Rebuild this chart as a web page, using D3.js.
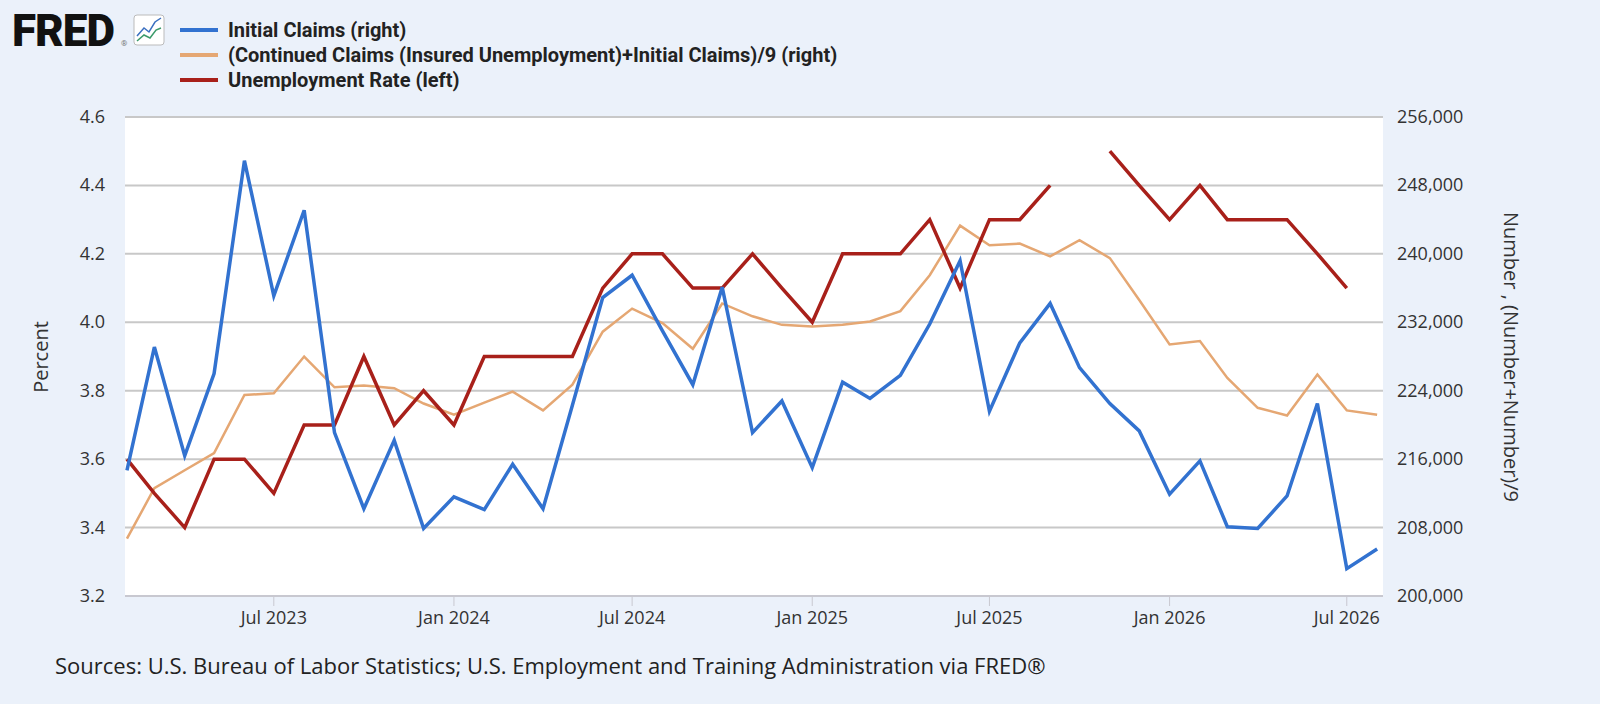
<!DOCTYPE html>
<html><head><meta charset="utf-8">
<script src="https://cdn.jsdelivr.net/npm/d3@7"></script>
<style>html,body{margin:0;padding:0;overflow:hidden;background:#ebf1fa;}svg{display:block;}</style>
</head><body><svg width="1600" height="704"></svg>
<script>
var startMonth = new Date(2023, 1, 1); // Feb 2023
var initialClaims = [214700,229100,216400,226000,250900,235100,245100,219100,210200,218200,207900,211600,210100,215400,210200,222300,234900,237500,231000,224700,236100,219100,222800,215000,225000,223100,225800,231800,239200,221600,229600,234200,226700,222500,219300,211900,215800,208100,207900,211700,222500,203200,205500];
var continuedClaims = [206700,212600,214700,216700,223500,223700,228000,224400,224600,224300,222500,221200,222600,223900,221700,224700,230900,233600,231900,228900,234200,232700,231700,231500,231700,232100,233300,237500,243300,241000,241200,239700,241600,239500,234600,229400,229800,225500,222000,221100,225900,221700,221200];
var unemploymentRate = [3.6,3.5,3.4,3.6,3.6,3.5,3.7,3.7,3.9,3.7,3.8,3.7,3.9,3.9,3.9,3.9,4.1,4.2,4.2,4.1,4.1,4.2,4.1,4.0,4.2,4.2,4.2,4.3,4.1,4.3,4.3,4.4,null,4.5,4.4,4.3,4.4,4.3,4.3,4.3,4.2,4.1,null];
var leftTicks = [3.2,3.4,3.6,3.8,4.0,4.2,4.4,4.6];
var rightTicks = [200000,208000,216000,224000,232000,240000,248000,256000];
var xTicks = [new Date(2023,6,1),new Date(2024,0,1),new Date(2024,6,1),new Date(2025,0,1),new Date(2025,6,1),new Date(2026,0,1),new Date(2026,6,1)];

var dates = initialClaims.map(function(v,i){ return d3.timeMonth.offset(startMonth, i); });
var svg = d3.select("svg");
var L = 125, R = 1383, T = 117, B = 596;

var x = d3.scaleTime().domain([d3.timeDay.offset(dates[0],-2), d3.timeDay.offset(dates[dates.length-1],6)]).range([L, R]);
var yL = d3.scaleLinear().domain([3.2,4.6]).range([B,T]);
var yR = d3.scaleLinear().domain([200000,256000]).range([B,T]);

svg.append("rect").attr("x",L).attr("y",T).attr("width",R-L).attr("height",B-T).attr("fill","#fff");

svg.append("g").selectAll("line").data(leftTicks.slice(1)).join("line")
  .attr("x1",L).attr("x2",R).attr("y1",function(d){return yL(d);}).attr("y2",function(d){return yL(d);})
  .attr("stroke","#c8c8c8").attr("stroke-width",2);
svg.append("line").attr("x1",L).attr("x2",R).attr("y1",B).attr("y2",B).attr("stroke","#c8c8d0").attr("stroke-width",2);

var tickFont = "'Open Sans', sans-serif";
svg.append("g").selectAll("text").data(leftTicks).join("text")
  .attr("x",105).attr("y",function(d){return yL(d)+6;}).attr("text-anchor","end")
  .attr("font-family",tickFont).attr("font-size",18).attr("fill","#333").text(function(d){return d3.format(".1f")(d);});
svg.append("g").selectAll("text").data(rightTicks).join("text")
  .attr("x",1397).attr("y",function(d){return yR(d)+6;})
  .attr("font-family",tickFont).attr("font-size",18).attr("fill","#333").text(d3.format(","));
svg.append("g").selectAll("line").data(xTicks).join("line")
  .attr("x1",function(d){return x(d);}).attr("x2",function(d){return x(d);}).attr("y1",B).attr("y2",B+10)
  .attr("stroke","#c8c8d0");
svg.append("g").selectAll("text").data(xTicks).join("text")
  .attr("x",function(d){return x(d);}).attr("y",624).attr("text-anchor","middle")
  .attr("font-family",tickFont).attr("font-size",18).attr("fill","#333").text(d3.timeFormat("%b %Y"));

svg.append("text").attr("transform","translate(48,357) rotate(-90)").attr("text-anchor","middle")
  .attr("font-family",tickFont).attr("font-size",20).attr("fill","#333").text("Percent");
svg.append("text").attr("transform","translate(1504,357) rotate(90)").attr("text-anchor","middle")
  .attr("font-family",tickFont).attr("font-size",20).attr("fill","#333").text("Number , (Number+Number)/9");

function draw(vals, sc, color, w){
  var line = d3.line().defined(function(d){return d != null;})
    .x(function(d,i){return x(dates[i]);}).y(function(d){return sc(d);});
  svg.append("path").datum(vals).attr("d",line).attr("fill","none").attr("stroke",color)
    .attr("stroke-width",w).attr("stroke-linejoin","miter");
}
draw(continuedClaims, yR, "#e5a773", 2.5);
draw(unemploymentRate, yL, "#a8201a", 3.5);
draw(initialClaims, yR, "#3272d0", 3.5);

// logo
svg.append("text").attr("x",12).attr("y",46).attr("font-family","Roboto, sans-serif").attr("font-weight",900)
  .attr("font-size",44).attr("letter-spacing",-1).attr("fill","#111").text("FRED");
svg.append("text").attr("x",121).attr("y",46).attr("font-family","Roboto, sans-serif").attr("font-size",8).attr("fill","#777").text("®");
svg.append("rect").attr("x",134).attr("y",15).attr("width",30).attr("height",30).attr("rx",3)
  .attr("fill","#fff").attr("stroke","#bbb");
svg.append("polyline").attr("points","137,36 144,28 149,32 155,22 161,18").attr("fill","none").attr("stroke","#3a6fc0").attr("stroke-width",1.5);
svg.append("polyline").attr("points","137,41 144,35 150,38 156,30 161,28").attr("fill","none").attr("stroke","#3a9a6a").attr("stroke-width",1.5);

var legend = [["Initial Claims (right)","#3272d0"],["(Continued Claims (Insured Unemployment)+Initial Claims)/9 (right)","#e5a773"],["Unemployment Rate (left)","#a8201a"]];
var lg = svg.append("g").selectAll("g").data(legend).join("g")
  .attr("transform",function(d,i){return "translate(180,"+(30+i*25)+")";});
lg.append("line").attr("x1",0).attr("x2",38).attr("stroke",function(d){return d[1];}).attr("stroke-width",4);
lg.append("text").attr("x",48).attr("y",7).attr("font-family","Roboto, sans-serif").attr("font-weight",700)
  .attr("font-size",20).attr("fill","#222").text(function(d){return d[0];});

svg.append("text").attr("x",55).attr("y",674).attr("font-family",tickFont).attr("font-size",22).attr("fill","#222")
  .text("Sources: U.S. Bureau of Labor Statistics; U.S. Employment and Training Administration via FRED®");
</script></body></html>
